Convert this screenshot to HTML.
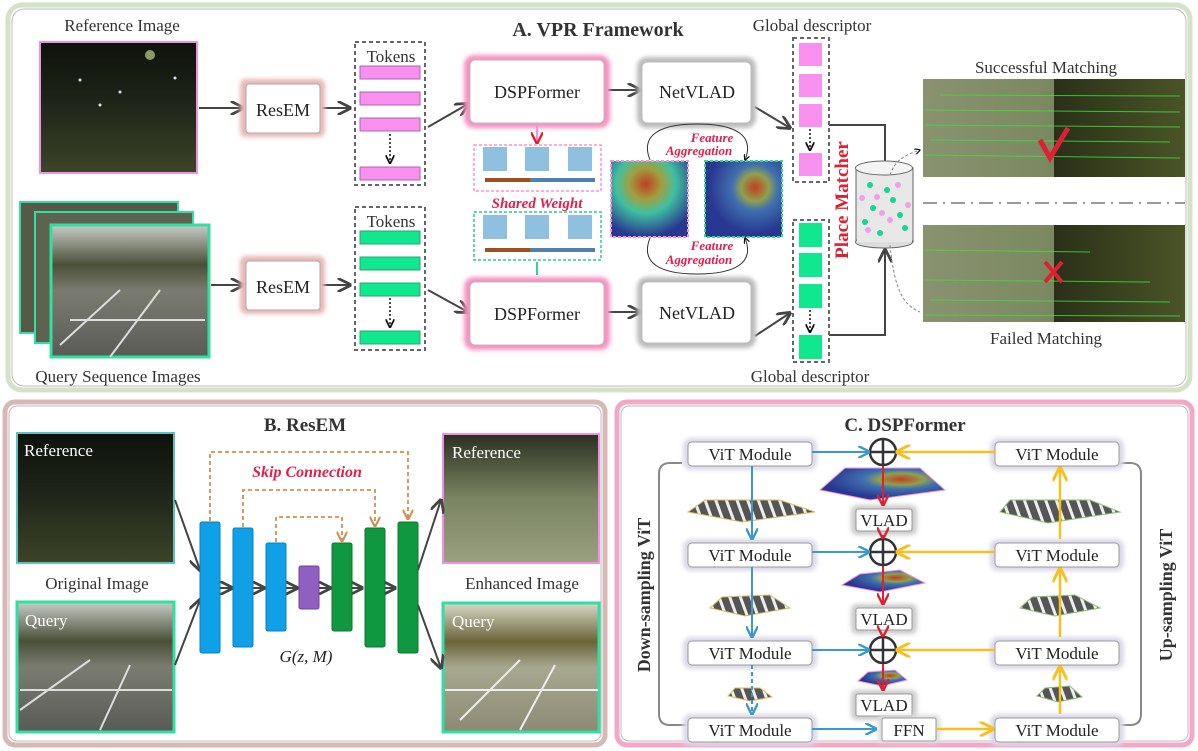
<!DOCTYPE html>
<html><head><meta charset="utf-8"><style>
html,body{margin:0;padding:0;background:#fff;}
svg{display:block;font-family:"Liberation Serif",serif;}
</style></head><body>
<svg width="1198" height="751" viewBox="0 0 1198 751" xmlns="http://www.w3.org/2000/svg">
<defs>
<marker id="ah" viewBox="0 0 10 10" refX="9" refY="5" markerWidth="7" markerHeight="7" orient="auto"><path d="M0,0 L10,5 L0,10" fill="none" stroke="#444" stroke-width="2"/></marker>
<marker id="ahb" viewBox="0 0 10 10" refX="9" refY="5" markerWidth="6" markerHeight="6" orient="auto"><path d="M0,0 L10,5 L0,10" fill="none" stroke="#3a9ac8" stroke-width="2"/></marker>
<marker id="ahy" viewBox="0 0 10 10" refX="9" refY="5" markerWidth="6" markerHeight="6" orient="auto"><path d="M0,0 L10,5 L0,10" fill="none" stroke="#f5c020" stroke-width="2"/></marker>
<marker id="ahr" viewBox="0 0 10 10" refX="9" refY="5" markerWidth="6" markerHeight="6" orient="auto"><path d="M0,0 L10,5 L0,10" fill="none" stroke="#e02030" stroke-width="2"/></marker>
<marker id="aho" viewBox="0 0 10 10" refX="9" refY="5" markerWidth="6" markerHeight="6" orient="auto"><path d="M0,0 L10,5 L0,10" fill="none" stroke="#d09050" stroke-width="2"/></marker>
<marker id="ahk" viewBox="0 0 10 10" refX="9" refY="5" markerWidth="6" markerHeight="6" orient="auto"><path d="M0,0 L10,5 L0,10" fill="none" stroke="#111" stroke-width="2"/></marker>
<linearGradient id="night" x1="0" y1="0" x2="0" y2="1"><stop offset="0" stop-color="#0e120c"/><stop offset="0.45" stop-color="#1e2418"/><stop offset="1" stop-color="#3c4428"/></linearGradient>
<linearGradient id="day" x1="0" y1="0" x2="0" y2="1"><stop offset="0" stop-color="#c8ccc8"/><stop offset="0.3" stop-color="#4a5038"/><stop offset="0.5" stop-color="#7a7c70"/><stop offset="1" stop-color="#5a5a56"/></linearGradient>
<linearGradient id="enh" x1="0" y1="0" x2="0" y2="1"><stop offset="0" stop-color="#2a3020"/><stop offset="0.5" stop-color="#7a8462"/><stop offset="1" stop-color="#9aa080"/></linearGradient>
<linearGradient id="enhq" x1="0" y1="0" x2="0" y2="1"><stop offset="0" stop-color="#d8d8c8"/><stop offset="0.3" stop-color="#6a6438"/><stop offset="0.5" stop-color="#a8a890"/><stop offset="1" stop-color="#8c8a74"/></linearGradient>
<linearGradient id="match" x1="0" y1="0" x2="1" y2="0"><stop offset="0" stop-color="#8a9270"/><stop offset="0.5" stop-color="#7a8860"/><stop offset="0.5" stop-color="#2a3018"/><stop offset="1" stop-color="#4a5426"/></linearGradient>
<radialGradient id="heat1" cx="0.45" cy="0.3" r="0.7"><stop offset="0" stop-color="#c04020"/><stop offset="0.3" stop-color="#a0a040"/><stop offset="0.55" stop-color="#40c0a0"/><stop offset="1" stop-color="#283890"/></radialGradient>
<radialGradient id="heat2" cx="0.65" cy="0.35" r="0.6"><stop offset="0" stop-color="#c04020"/><stop offset="0.3" stop-color="#90a050"/><stop offset="0.5" stop-color="#4070b0"/><stop offset="1" stop-color="#283890"/></radialGradient>
<pattern id="stripes" width="10" height="10" patternUnits="userSpaceOnUse" patternTransform="rotate(-20)"><rect width="10" height="10" fill="#555"/><rect width="3" height="10" fill="#eee"/></pattern>
<filter id="glow" x="-20%" y="-20%" width="140%" height="140%"><feGaussianBlur stdDeviation="2"/></filter>
</defs>

<rect x="8" y="5" width="1182" height="385" rx="14" fill="#fff" stroke="#d6e2c8" stroke-width="5"/>
<rect x="12" y="9" width="1174" height="377" rx="12" fill="none" stroke="#bbb" stroke-width="1"/>
<rect x="5" y="402" width="600" height="343" rx="10" fill="#fff" stroke="#d8b8b4" stroke-width="5"/>
<rect x="9" y="406" width="592" height="335" rx="8" fill="none" stroke="#bbb" stroke-width="1"/>
<rect x="617" y="402" width="575" height="343" rx="10" fill="#fff" stroke="#f4a8c8" stroke-width="5"/>
<rect x="621" y="406" width="567" height="335" rx="8" fill="none" stroke="#bbb" stroke-width="1"/>

<!-- ===== A ===== -->
<text x="598" y="36" font-size="20" font-weight="bold" text-anchor="middle" fill="#333">A. VPR Framework</text>
<text x="122" y="31" font-size="17" text-anchor="middle" fill="#333">Reference Image</text>
<rect x="40" y="42" width="157" height="131" fill="url(#night)" stroke="#f090e8" stroke-width="2"/>
<g fill="#dde"><circle cx="150" cy="55" r="5" fill="#8a9a60"/><circle cx="80" cy="80" r="1.5"/><circle cx="120" cy="92" r="1.5"/><circle cx="175" cy="78" r="1.5"/><circle cx="100" cy="105" r="1.5"/></g>
<rect x="20" y="202" width="158" height="131" fill="#555a48" stroke="#30e0a0" stroke-width="2"/>
<rect x="35" y="212" width="158" height="131" fill="#5e6250" stroke="#30e0a0" stroke-width="2"/>
<rect x="51" y="225" width="158" height="132" fill="url(#day)" stroke="#30e0a0" stroke-width="3"/>
<path d="M60,345 L120,290 M110,357 L160,290 M70,320 L205,320" stroke="#ddd" stroke-width="2"/>
<text x="118" y="382" font-size="17" text-anchor="middle" fill="#333">Query Sequence Images</text>

<g stroke="#444" stroke-width="2" fill="none" marker-end="url(#ah)">
<line x1="199" y1="108" x2="243" y2="108"/>
<line x1="211" y1="285" x2="243" y2="285"/>
<line x1="322" y1="108" x2="350" y2="108"/>
<line x1="322" y1="285" x2="350" y2="285"/>
<line x1="428" y1="127" x2="468" y2="104"/>
<line x1="428" y1="290" x2="468" y2="312"/>
<line x1="608" y1="90" x2="640" y2="90"/>
<line x1="608" y1="312" x2="640" y2="312"/>
<line x1="755" y1="107" x2="790" y2="128"/>
<line x1="755" y1="336" x2="790" y2="313"/>
<polyline points="829,125 885,125 885,180"/>
<polyline points="829,335 885,335 885,250"/>
</g>

<g>
<rect x="240" y="79" width="85" height="58" rx="6" fill="#e8b8b4" filter="url(#glow)"/>
<rect x="246" y="84" width="74" height="49" rx="3" fill="#fff" stroke="#aaa"/>
<text x="283" y="116" font-size="18" text-anchor="middle" fill="#222">ResEM</text>
<rect x="240" y="256" width="85" height="58" rx="6" fill="#e8b8b4" filter="url(#glow)"/>
<rect x="246" y="261" width="74" height="49" rx="3" fill="#fff" stroke="#aaa"/>
<text x="283" y="293" font-size="18" text-anchor="middle" fill="#222">ResEM</text>
</g>

<rect x="355" y="42" width="70" height="143" fill="none" stroke="#666" stroke-width="2" stroke-dasharray="4,3"/>
<text x="391" y="62" font-size="17" text-anchor="middle" fill="#333">Tokens</text>
<g fill="#f890f0" stroke="#b060b0" stroke-width="1">
<rect x="360" y="66" width="60" height="13"/><rect x="360" y="92" width="60" height="13"/><rect x="360" y="118" width="60" height="13"/><rect x="360" y="167" width="60" height="13"/>
</g>
<line x1="390" y1="134" x2="390" y2="163" stroke="#111" stroke-width="1.5" stroke-dasharray="2,2" marker-end="url(#ahk)"/>
<rect x="355" y="207" width="70" height="143" fill="none" stroke="#666" stroke-width="2" stroke-dasharray="4,3"/>
<text x="391" y="227" font-size="17" text-anchor="middle" fill="#333">Tokens</text>
<g fill="#10e890" stroke="#30a070" stroke-width="1">
<rect x="360" y="231" width="60" height="13"/><rect x="360" y="257" width="60" height="13"/><rect x="360" y="283" width="60" height="13"/><rect x="360" y="331" width="60" height="13"/>
</g>
<line x1="390" y1="298" x2="390" y2="327" stroke="#111" stroke-width="1.5" stroke-dasharray="2,2" marker-end="url(#ahk)"/>

<rect x="464" y="55" width="146" height="73" rx="10" fill="#f890c0" filter="url(#glow)"/>
<rect x="470" y="60" width="134" height="63" rx="5" fill="#fff" stroke="#bbb"/>
<text x="537" y="98" font-size="18" text-anchor="middle" fill="#222">DSPFormer</text>
<rect x="464" y="277" width="146" height="73" rx="10" fill="#f890c0" filter="url(#glow)"/>
<rect x="470" y="282" width="134" height="63" rx="5" fill="#fff" stroke="#bbb"/>
<text x="537" y="320" font-size="18" text-anchor="middle" fill="#222">DSPFormer</text>

<rect x="637" y="57" width="119" height="71" rx="10" fill="#bbb" filter="url(#glow)"/>
<rect x="642" y="62" width="109" height="61" rx="5" fill="#fff" stroke="#bbb"/>
<text x="697" y="98" font-size="18" text-anchor="middle" fill="#222">NetVLAD</text>
<rect x="637" y="277" width="119" height="71" rx="10" fill="#bbb" filter="url(#glow)"/>
<rect x="642" y="282" width="109" height="61" rx="5" fill="#fff" stroke="#bbb"/>
<text x="697" y="319" font-size="18" text-anchor="middle" fill="#222">NetVLAD</text>

<line x1="537" y1="124" x2="537" y2="143" stroke="#f890e0" stroke-width="2" marker-end="url(#ahr)"/>
<line x1="537" y1="275" x2="537" y2="262" stroke="#30d890" stroke-width="2"/>
<rect x="474" y="145" width="127" height="46" fill="none" stroke="#f890e0" stroke-width="1.5" stroke-dasharray="3,2"/>
<rect x="474" y="212" width="127" height="48" fill="none" stroke="#30c890" stroke-width="1.5" stroke-dasharray="3,2"/>
<g fill="#90c0e0"><rect x="483" y="147" width="24" height="24"/><rect x="525" y="147" width="24" height="24"/><rect x="568" y="147" width="24" height="24"/>
<rect x="483" y="215" width="24" height="24"/><rect x="525" y="215" width="24" height="24"/><rect x="568" y="215" width="24" height="24"/></g>
<rect x="485" y="178" width="110" height="4" fill="#5080b0"/><rect x="485" y="248" width="110" height="4" fill="#5080b0"/>
<rect x="485" y="178" width="45" height="4" fill="#a05020"/><rect x="485" y="248" width="45" height="4" fill="#a05020"/>
<text x="537" y="208" font-size="15" font-weight="bold" font-style="italic" text-anchor="middle" fill="#e0204a">Shared Weight</text>

<rect x="611" y="161" width="77" height="76" fill="url(#heat1)" stroke="#f890e0" stroke-width="2" stroke-dasharray="3,2"/>
<rect x="705" y="161" width="77" height="76" fill="url(#heat2)" stroke="#30d890" stroke-width="2" stroke-dasharray="3,2"/>
<path d="M650,160 C640,135 660,124 697,124 C735,124 755,135 745,160" fill="none" stroke="#333" stroke-width="1" marker-end="url(#ahk)"/>
<path d="M650,238 C640,263 660,274 697,274 C735,274 755,263 745,238" fill="none" stroke="#333" stroke-width="1" marker-end="url(#ahk)"/>
<text x="712" y="142" font-size="13" font-weight="bold" font-style="italic" text-anchor="middle" fill="#e0204a">Feature</text>
<text x="699" y="155" font-size="13" font-weight="bold" font-style="italic" text-anchor="middle" fill="#e0204a">Aggregation</text>
<text x="712" y="250" font-size="13" font-weight="bold" font-style="italic" text-anchor="middle" fill="#e0204a">Feature</text>
<text x="699" y="264" font-size="13" font-weight="bold" font-style="italic" text-anchor="middle" fill="#e0204a">Aggregation</text>

<text x="812" y="31" font-size="17" text-anchor="middle" fill="#333">Global descriptor</text>
<rect x="793" y="38" width="36" height="144" fill="none" stroke="#666" stroke-width="2" stroke-dasharray="4,3"/>
<g fill="#f890f0"><rect x="799" y="43" width="23" height="23"/><rect x="799" y="74" width="23" height="23"/><rect x="799" y="104" width="23" height="23"/><rect x="799" y="153" width="23" height="23"/></g>
<line x1="810" y1="129" x2="810" y2="150" stroke="#111" stroke-width="1.5" stroke-dasharray="2,2" marker-end="url(#ahk)"/>
<rect x="793" y="220" width="36" height="142" fill="none" stroke="#666" stroke-width="2" stroke-dasharray="4,3"/>
<g fill="#10e890"><rect x="799" y="223" width="23" height="24"/><rect x="799" y="253" width="23" height="24"/><rect x="799" y="284" width="23" height="24"/><rect x="799" y="335" width="23" height="24"/></g>
<line x1="810" y1="310" x2="810" y2="332" stroke="#111" stroke-width="1.5" stroke-dasharray="2,2" marker-end="url(#ahk)"/>
<text x="810" y="382" font-size="17" text-anchor="middle" fill="#333">Global descriptor</text>
<text x="0" y="0" font-size="19" font-weight="bold" fill="#e02030" text-anchor="middle" transform="translate(848,200) rotate(-90)">Place Matcher</text>

<rect x="856" y="168" width="57" height="74" fill="#e8e8e8" stroke="#666"/>
<ellipse cx="884" cy="242" rx="28.5" ry="6" fill="#ddd" stroke="#666"/>
<rect x="857" y="230" width="55" height="12" fill="#e8e8e8"/>
<ellipse cx="884" cy="168" rx="28.5" ry="7" fill="#f4f4f4" stroke="#666"/>
<g fill="#10d890"><circle cx="873" cy="208" r="3"/><circle cx="893" cy="200" r="3"/><circle cx="865" cy="222" r="3"/><circle cx="900" cy="215" r="3"/><circle cx="880" cy="233" r="3"/><circle cx="905" cy="228" r="3"/><circle cx="887" cy="190" r="3"/><circle cx="870" cy="185" r="3"/></g>
<g fill="#f0a0e8"><circle cx="877" cy="197" r="3"/><circle cx="898" cy="185" r="3"/><circle cx="868" cy="230" r="3"/><circle cx="890" cy="220" r="3"/><circle cx="908" cy="205" r="3"/><circle cx="882" cy="213" r="3"/><circle cx="862" cy="198" r="3"/></g>
<path d="M890,175 C895,160 905,155 920,150" fill="none" stroke="#888" stroke-dasharray="3,2" marker-end="url(#ahk)"/>
<path d="M890,245 C895,295 905,305 920,312" fill="none" stroke="#888" stroke-dasharray="3,2"/>

<text x="1046" y="73" font-size="17" text-anchor="middle" fill="#333">Successful Matching</text>
<rect x="923" y="79" width="262" height="98" fill="url(#match)"/>
<g stroke="#40e040" stroke-width="1" opacity="0.8"><line x1="925" y1="110" x2="1180" y2="112"/><line x1="925" y1="125" x2="1180" y2="127"/><line x1="930" y1="140" x2="1170" y2="142"/><line x1="925" y1="155" x2="1180" y2="158"/><line x1="940" y1="95" x2="1180" y2="96"/></g>
<path d="M1040,140 L1050,158 L1068,128" fill="none" stroke="#e02030" stroke-width="5"/>
<line x1="923" y1="203" x2="1185" y2="203" stroke="#999" stroke-width="2" stroke-dasharray="14,6,2,6"/>
<rect x="923" y="225" width="262" height="97" fill="url(#match)"/>
<g stroke="#40e040" stroke-width="1" opacity="0.8"><line x1="925" y1="250" x2="1090" y2="252"/><line x1="925" y1="280" x2="1150" y2="282"/><line x1="930" y1="300" x2="1170" y2="302"/><line x1="925" y1="315" x2="1180" y2="316"/></g>
<path d="M1045,262 L1062,282 M1062,262 L1045,282" stroke="#e02030" stroke-width="4"/>
<text x="1046" y="344" font-size="17" text-anchor="middle" fill="#333">Failed Matching</text>

<!-- ===== B ===== -->
<text x="305" y="431" font-size="19" font-weight="bold" text-anchor="middle" fill="#333">B. ResEM</text>
<rect x="17" y="433" width="157" height="130" fill="url(#night)" stroke="#60c0c0" stroke-width="2"/>
<text x="24" y="456" font-size="17" fill="#fff">Reference</text>
<text x="97" y="589" font-size="17" text-anchor="middle" fill="#333">Original Image</text>
<rect x="17" y="602" width="157" height="130" fill="url(#day)" stroke="#30e0a0" stroke-width="3"/>
<path d="M20,710 L90,660 M100,730 L130,665 M20,690 L172,690" stroke="#ddd" stroke-width="2"/>
<text x="25" y="626" font-size="17" fill="#fff">Query</text>
<rect x="443" y="434" width="156" height="129" fill="url(#enh)" stroke="#f090e8" stroke-width="2"/>
<text x="452" y="458" font-size="17" fill="#fff">Reference</text>
<text x="522" y="589" font-size="17" text-anchor="middle" fill="#333">Enhanced Image</text>
<rect x="443" y="603" width="156" height="129" fill="url(#enhq)" stroke="#30e0a0" stroke-width="3"/>
<path d="M460,720 L520,660 M520,730 L555,665 M445,690 L598,690" stroke="#eee" stroke-width="2"/>
<text x="452" y="627" font-size="17" fill="#fff">Query</text>

<g stroke="#444" stroke-width="2" marker-end="url(#ah)">
<line x1="175" y1="500" x2="200" y2="570"/><line x1="175" y1="665" x2="200" y2="600"/>
<line x1="418" y1="570" x2="441" y2="500"/><line x1="418" y1="605" x2="441" y2="668"/>
<line x1="220" y1="588" x2="232" y2="588"/><line x1="253" y1="588" x2="264" y2="588"/><line x1="285" y1="588" x2="297" y2="588"/><line x1="318" y1="588" x2="330" y2="588"/><line x1="350" y1="588" x2="362" y2="588"/><line x1="383" y1="588" x2="395" y2="588"/>
</g>
<g>
<rect x="200" y="522" width="20" height="131" rx="2" fill="#10a0e8" stroke="#0880c0"/>
<rect x="233" y="528" width="20" height="119" rx="2" fill="#10a0e8" stroke="#0880c0"/>
<rect x="266" y="543" width="20" height="88" rx="2" fill="#10a0e8" stroke="#0880c0"/>
<rect x="299" y="566" width="20" height="43" rx="2" fill="#9060c0" stroke="#7040a0"/>
<rect x="332" y="543" width="20" height="88" rx="2" fill="#109840" stroke="#087830"/>
<rect x="365" y="528" width="20" height="119" rx="2" fill="#109840" stroke="#087830"/>
<rect x="398" y="522" width="20" height="131" rx="2" fill="#109840" stroke="#087830"/>
</g>
<g fill="none" stroke="#d09050" stroke-width="1.8" stroke-dasharray="4,3" marker-end="url(#aho)">
<polyline points="210,521 210,452 408,452 408,519"/>
<polyline points="243,527 243,490 375,490 375,526"/>
<polyline points="276,542 276,517 342,517 342,541"/>
</g>
<text x="307" y="477" font-size="16" font-weight="bold" font-style="italic" text-anchor="middle" fill="#e0204a">Skip Connection</text>
<text x="306" y="662" font-size="17" font-style="italic" text-anchor="middle" fill="#222">G(z, M)</text>

<!-- ===== C ===== -->
<text x="905" y="431" font-size="19" font-weight="bold" text-anchor="middle" fill="#333">C. DSPFormer</text>
<path d="M682,463 L670,463 Q659,463 659,474 L659,714 Q659,725 670,725 L686,725" fill="none" stroke="#888" stroke-width="2"/>
<path d="M1120,463 L1130,463 Q1141,463 1141,474 L1141,714 Q1141,725 1130,725 L1118,725" fill="none" stroke="#888" stroke-width="2"/>
<text font-size="18" font-weight="bold" fill="#333" text-anchor="middle" transform="translate(650,595) rotate(-90)">Down-sampling ViT</text>
<text font-size="18" font-weight="bold" fill="#333" text-anchor="middle" transform="translate(1172,595) rotate(-90)">Up-sampling ViT</text>

<g font-size="17" text-anchor="middle" fill="#222">
<g><rect x="683" y="438" width="134" height="32" rx="8" fill="#dcd8e8" filter="url(#glow)"/><rect x="688" y="442" width="124" height="24" rx="4" fill="#fff" stroke="#999"/><text x="750" y="460">ViT Module</text></g>
<g><rect x="683" y="539" width="134" height="32" rx="8" fill="#dcd8e8" filter="url(#glow)"/><rect x="688" y="543" width="124" height="24" rx="4" fill="#fff" stroke="#999"/><text x="750" y="561">ViT Module</text></g>
<g><rect x="683" y="637" width="134" height="32" rx="8" fill="#dcd8e8" filter="url(#glow)"/><rect x="688" y="641" width="124" height="24" rx="4" fill="#fff" stroke="#999"/><text x="750" y="659">ViT Module</text></g>
<g><rect x="683" y="714" width="134" height="32" rx="8" fill="#dcd8e8" filter="url(#glow)"/><rect x="688" y="718" width="124" height="24" rx="4" fill="#fff" stroke="#999"/><text x="750" y="736">ViT Module</text></g>
<g><rect x="990" y="438" width="134" height="32" rx="8" fill="#dcd8e8" filter="url(#glow)"/><rect x="995" y="442" width="124" height="24" rx="4" fill="#fff" stroke="#999"/><text x="1057" y="460">ViT Module</text></g>
<g><rect x="990" y="539" width="134" height="32" rx="8" fill="#dcd8e8" filter="url(#glow)"/><rect x="995" y="543" width="124" height="24" rx="4" fill="#fff" stroke="#999"/><text x="1057" y="561">ViT Module</text></g>
<g><rect x="990" y="637" width="134" height="32" rx="8" fill="#dcd8e8" filter="url(#glow)"/><rect x="995" y="641" width="124" height="24" rx="4" fill="#fff" stroke="#999"/><text x="1057" y="659">ViT Module</text></g>
<g><rect x="990" y="714" width="134" height="32" rx="8" fill="#dcd8e8" filter="url(#glow)"/><rect x="995" y="718" width="124" height="24" rx="4" fill="#fff" stroke="#999"/><text x="1057" y="736">ViT Module</text></g>
<g><rect x="851" y="505" width="66" height="30" rx="6" fill="#ccc" filter="url(#glow)"/><rect x="856" y="509" width="56" height="22" rx="2" fill="#fff" stroke="#999"/><text x="884" y="526">VLAD</text></g>
<g><rect x="851" y="604" width="66" height="30" rx="6" fill="#ccc" filter="url(#glow)"/><rect x="856" y="608" width="56" height="22" rx="2" fill="#fff" stroke="#999"/><text x="884" y="625">VLAD</text></g>
<g><rect x="851" y="690" width="66" height="30" rx="6" fill="#ccc" filter="url(#glow)"/><rect x="856" y="694" width="56" height="22" rx="2" fill="#fff" stroke="#999"/><text x="884" y="711">VLAD</text></g>
<g><rect x="878" y="715" width="62" height="28" rx="4" fill="#ddd" filter="url(#glow)"/><rect x="882" y="718" width="54" height="23" rx="2" fill="#fff" stroke="#999"/><text x="909" y="736">FFN</text></g>
</g>

<polygon points="845,468 920,468 945,490 870,500 820,490" fill="url(#heat2)" stroke="#f890e0"/>
<polygon points="860,574 900,570 925,583 880,592 842,585" fill="url(#heat2)" stroke="#f890e0"/>
<polygon points="868,672 895,670 907,680 882,686 858,681" fill="url(#heat2)" stroke="#f890e0"/>
<g fill="url(#stripes)" stroke="#d8c060">
<polygon points="705,500 780,500 815,512 742,522 688,512"/>
<polygon points="722,597 770,595 790,608 745,616 710,608"/>
<polygon points="735,688 760,688 772,697 750,701 728,696"/>
</g>
<g fill="url(#stripes)" stroke="#90c070">
<polygon points="1010,500 1090,500 1120,512 1048,523 1000,512"/>
<polygon points="1032,597 1075,595 1100,608 1055,616 1020,608"/>
<polygon points="1045,688 1070,686 1082,697 1058,702 1037,696"/>
</g>

<g fill="#fff" stroke="#333" stroke-width="2.5">
<circle cx="883" cy="452" r="13"/><line x1="870" y1="452" x2="896" y2="452"/><line x1="883" y1="439" x2="883" y2="465"/>
<circle cx="883" cy="552" r="13"/><line x1="870" y1="552" x2="896" y2="552"/><line x1="883" y1="539" x2="883" y2="565"/>
<circle cx="883" cy="650" r="13"/><line x1="870" y1="650" x2="896" y2="650"/><line x1="883" y1="637" x2="883" y2="663"/>
</g>

<g stroke="#3a9ac8" stroke-width="2" fill="none" marker-end="url(#ahb)">
<line x1="812" y1="452" x2="869" y2="452"/><line x1="812" y1="552" x2="869" y2="552"/><line x1="812" y1="650" x2="869" y2="650"/><line x1="812" y1="729" x2="876" y2="729"/>
<line x1="752" y1="466" x2="752" y2="539"/><line x1="752" y1="567" x2="752" y2="637"/>
</g>
<line x1="752" y1="665" x2="752" y2="714" stroke="#3a9ac8" stroke-width="2" stroke-dasharray="4,3" marker-end="url(#ahb)"/>
<g stroke="#f5c020" stroke-width="2.5" fill="none" marker-end="url(#ahy)">
<line x1="995" y1="452" x2="897" y2="452"/><line x1="995" y1="552" x2="897" y2="552"/><line x1="995" y1="650" x2="897" y2="650"/><line x1="936" y1="729" x2="993" y2="729"/>
<line x1="1060" y1="539" x2="1060" y2="468"/><line x1="1060" y1="637" x2="1060" y2="569"/><line x1="1060" y1="714" x2="1060" y2="667"/>
</g>
<g stroke="#e02030" stroke-width="2" fill="none" marker-end="url(#ahr)">
<line x1="883" y1="466" x2="883" y2="505"/><line x1="883" y1="535" x2="883" y2="538"/>
<line x1="883" y1="566" x2="883" y2="604"/><line x1="883" y1="634" x2="883" y2="636"/>
<line x1="883" y1="664" x2="883" y2="690"/>
</g>
</svg>
</body></html>
